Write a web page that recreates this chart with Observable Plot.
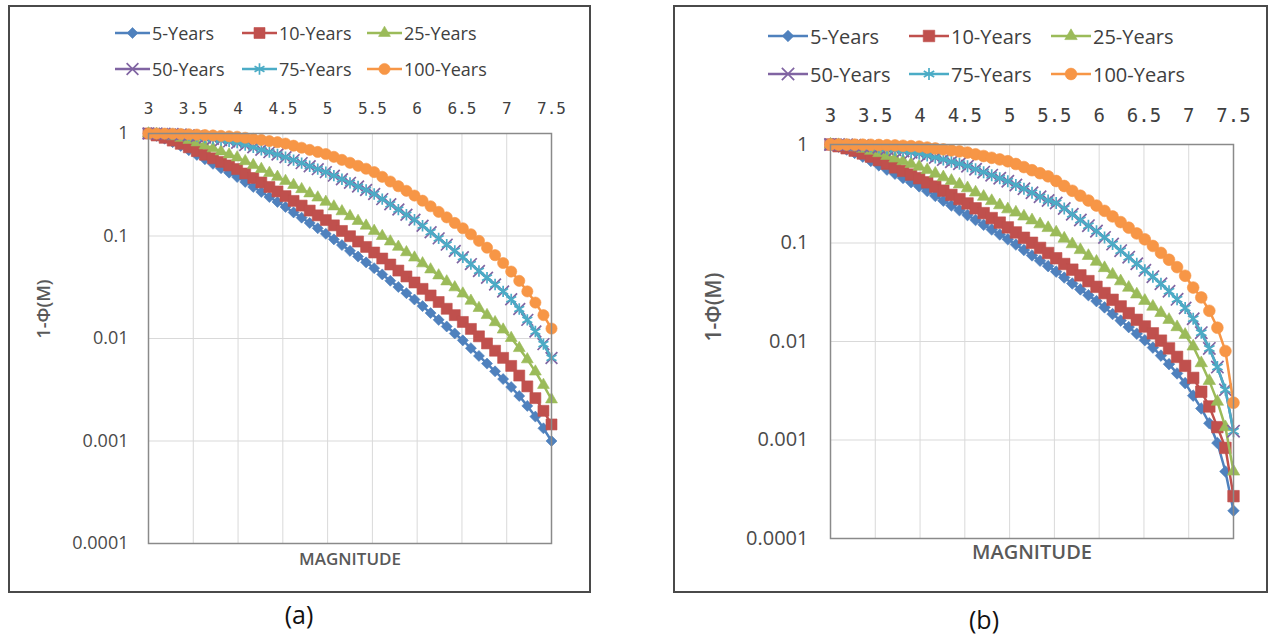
<!DOCTYPE html>
<html><head><meta charset="utf-8">
<script src="https://cdn.jsdelivr.net/npm/d3@7"></script>
<script src="https://cdn.jsdelivr.net/npm/@observablehq/plot@0.6"></script>
<style>
body{margin:0;background:#fff;width:1270px;height:636px;position:relative;overflow:hidden;font-family:"Open Sans",sans-serif;}
.frame{position:absolute;border:2px solid #4a4a4a;box-sizing:border-box;}
.abs{position:absolute;overflow:visible;}
.cap{position:absolute;font-size:25px;color:#111;transform:translate(-50%,-50%);font-family:"Open Sans",sans-serif;}
</style></head><body>
<script>
// ---- data ----
const magnitude = [3.00,3.09,3.18,3.27,3.36,3.45,3.54,3.63,3.72,3.81,3.90,3.99,4.08,4.17,4.26,4.35,4.44,4.53,4.62,4.71,4.80,4.89,4.98,5.07,5.16,5.25,5.34,5.43,5.52,5.61,5.70,5.79,5.88,5.97,6.06,6.15,6.24,6.33,6.42,6.51,6.60,6.69,6.78,6.87,6.96,7.05,7.14,7.23,7.32,7.41,7.50];
const seriesNames = ["5-Years","10-Years","25-Years","50-Years","75-Years","100-Years"];
const xTicks = [3,3.5,4,4.5,5,5.5,6,6.5,7,7.5];
const xTickLabels = ["3","3.5","4","4.5","5","5.5","6","6.5","7","7.5"];
const yTicks = [0.0001,0.001,0.01,0.1,1];
const yTickLabels = ["0.0001","0.001","0.01","0.1","1"];
const panelCaptions = ["(a)","(b)"];
const xTitle = "MAGNITUDE";
const yTitle = "1-\u03A6(M)";

// panel (a)
const a5 = [1.0,0.948,0.889,0.824,0.757,0.686,0.618,0.560,0.506,0.458,0.415,0.376,0.337,0.301,0.269,0.240,0.215,0.192,0.170,0.151,0.134,0.119,0.105,0.0927,0.0815,0.0716,0.0630,0.0553,0.0485,0.0422,0.0366,0.0318,0.0277,0.0240,0.0207,0.0177,0.0152,0.0131,0.0112,0.00959,0.00805,0.00676,0.00569,0.00478,0.00402,0.00336,0.00275,0.00220,0.00173,0.00133,0.00100];
const a10 = [1.0,0.957,0.908,0.853,0.794,0.733,0.673,0.621,0.573,0.528,0.488,0.450,0.407,0.368,0.333,0.301,0.272,0.245,0.220,0.198,0.177,0.159,0.143,0.127,0.112,0.0995,0.0883,0.0782,0.0690,0.0603,0.0527,0.0460,0.0403,0.0352,0.0305,0.0263,0.0227,0.0195,0.0169,0.0145,0.0124,0.0105,0.00895,0.00760,0.00647,0.00540,0.00435,0.00341,0.00262,0.00197,0.00145];
const a25 = [1.0,0.987,0.966,0.939,0.905,0.865,0.817,0.764,0.715,0.668,0.624,0.583,0.536,0.491,0.450,0.412,0.377,0.344,0.314,0.286,0.260,0.237,0.215,0.194,0.174,0.156,0.140,0.126,0.112,0.0998,0.0883,0.0783,0.0693,0.0615,0.0540,0.0471,0.0412,0.0360,0.0315,0.0274,0.0233,0.0198,0.0169,0.0144,0.0122,0.0101,0.00805,0.00625,0.00475,0.00352,0.00254];
const a75 = [1.0,0.999,0.994,0.987,0.976,0.963,0.943,0.915,0.889,0.863,0.838,0.814,0.773,0.733,0.693,0.658,0.624,0.587,0.550,0.514,0.480,0.449,0.420,0.388,0.358,0.330,0.304,0.281,0.257,0.229,0.204,0.181,0.161,0.144,0.126,0.109,0.0948,0.0824,0.0715,0.0621,0.0532,0.0456,0.0392,0.0336,0.0288,0.0241,0.0194,0.0152,0.0117,0.00881,0.00646];
const a50 = a75; // the 50-Years curve lies under the 75-Years curve in the picture
const a100 = [1.0,0.999,0.997,0.994,0.989,0.983,0.975,0.966,0.957,0.948,0.939,0.930,0.909,0.886,0.865,0.843,0.823,0.797,0.760,0.726,0.692,0.661,0.631,0.592,0.553,0.518,0.484,0.453,0.420,0.378,0.340,0.306,0.276,0.248,0.221,0.195,0.172,0.152,0.134,0.119,0.104,0.0897,0.0769,0.0650,0.0545,0.0450,0.0365,0.0288,0.0224,0.0169,0.0125];

// panel (b)
const b5 = [1.0,0.948,0.888,0.822,0.753,0.681,0.614,0.556,0.505,0.457,0.414,0.376,0.337,0.301,0.269,0.240,0.215,0.192,0.171,0.153,0.137,0.122,0.109,0.0964,0.0849,0.0748,0.0661,0.0582,0.0512,0.0446,0.0388,0.0338,0.0295,0.0257,0.0222,0.0190,0.0163,0.0140,0.0120,0.0103,0.00867,0.00719,0.00589,0.00474,0.00378,0.00282,0.00209,0.00148,0.000933,0.000479,0.000191];
const b10 = [1.0,0.961,0.916,0.866,0.811,0.754,0.695,0.638,0.586,0.540,0.495,0.455,0.413,0.374,0.340,0.308,0.279,0.252,0.225,0.201,0.179,0.161,0.144,0.128,0.113,0.1005,0.0891,0.0791,0.0700,0.0612,0.0536,0.0469,0.0410,0.0359,0.0310,0.0265,0.0227,0.0194,0.0166,0.0142,0.0121,0.0102,0.00851,0.00698,0.00566,0.00427,0.00309,0.00219,0.00135,0.000832,0.000269];
const b25 = [1.0,0.987,0.966,0.939,0.905,0.865,0.818,0.767,0.721,0.678,0.635,0.597,0.551,0.506,0.465,0.428,0.393,0.360,0.326,0.295,0.267,0.242,0.220,0.204,0.186,0.170,0.155,0.142,0.128,0.111,0.0973,0.0849,0.0740,0.0646,0.0557,0.0478,0.0409,0.0352,0.0301,0.0259,0.0226,0.0195,0.0166,0.0140,0.0117,0.00891,0.00603,0.00398,0.00245,0.00135,0.000479];
const b75 = [1.0,0.998,0.993,0.985,0.974,0.960,0.938,0.912,0.885,0.860,0.836,0.812,0.774,0.738,0.703,0.668,0.637,0.603,0.561,0.524,0.488,0.454,0.424,0.388,0.355,0.324,0.295,0.270,0.255,0.224,0.196,0.171,0.150,0.132,0.114,0.0975,0.0836,0.0718,0.0615,0.0528,0.0455,0.0386,0.0324,0.0268,0.0219,0.0170,0.0123,0.00851,0.00550,0.00324,0.00123];
const b50 = b75; // hidden under 75-Years in the picture
const b100 = [1.0,1.0,0.999,0.997,0.995,0.993,0.989,0.984,0.978,0.971,0.962,0.952,0.932,0.911,0.891,0.871,0.852,0.828,0.795,0.764,0.733,0.705,0.676,0.634,0.590,0.548,0.511,0.475,0.426,0.379,0.339,0.302,0.270,0.240,0.212,0.186,0.163,0.143,0.125,0.109,0.0933,0.0794,0.0676,0.0569,0.0465,0.0353,0.0280,0.0205,0.0138,0.0080,0.00239];

// ---- styles ----
const colors = ["#4F81BD","#C0504D","#9BBB59","#8064A2","#4BACC6","#F79646"];
const diamondSym = {draw(ctx, size){const s=Math.sqrt(size/2);ctx.moveTo(0,-s);ctx.lineTo(s,0);ctx.lineTo(0,s);ctx.lineTo(-s,0);ctx.closePath();}};
const symbols = [diamondSym, d3.symbolSquare, d3.symbolTriangle, d3.symbolTimes, d3.symbolAsterisk, d3.symbolCircle];
const strokeOnly = [false,false,false,true,true,false];
const radii = [4.4,6.2,4.4,5.4,5.4,5.6];

const panels = [
  {series:[a5,a10,a25,a50,a75,a100], frame:{l:8,t:5,w:583,h:588},
   svg:{l:9,t:88,w:581,h:500,mL:139,mR:39,mT:45,mB:45},
   fx:16, fy:18, ft:17, padX:20, padY:20, magDy:16, yDx:-104, k:1,
   leg:{x:[115,242,367], rows:[33,69], len:35, font:18},
   cap:{x:299,y:614}},
  {series:[b5,b10,b25,b50,b75,b100], frame:{l:673,t:5,w:595,h:588},
   svg:{l:674,t:88,w:592,h:500,mL:156,mR:33,mT:56,mB:50},
   fx:19, fy:20, ft:20, padX:23, padY:22, magDy:14, yDx:-116, k:1.05,
   leg:{x:[768,909,1051], rows:[36,74], len:40, font:20},
   cap:{x:984,y:619}}
];

const body = d3.select("body");
panels.forEach((P, pi) => {
  body.append("div").attr("class","frame")
    .style("left",P.frame.l+"px").style("top",P.frame.t+"px")
    .style("width",P.frame.w+"px").style("height",P.frame.h+"px");

  const marks = [
    Plot.gridX(xTicks.slice(1,-1), {stroke:"#d9d9d9", strokeOpacity:1, strokeWidth:1}),
    Plot.gridY(yTicks.slice(1,-1), {stroke:"#d9d9d9", strokeOpacity:1, strokeWidth:1})
  ];
  P.series.forEach((vals, s) => {
    const rows = magnitude.map((m,i)=>({m, p: vals[i]}));
    marks.push(Plot.line(rows, {x:"m", y:"p", stroke:colors[s], strokeWidth:2.5}));
    const rr = radii[s]*P.k;
    marks.push(Plot.dot(rows, strokeOnly[s]
      ? {x:"m", y:"p", symbol:symbols[s], r:rr, stroke:colors[s], strokeWidth:1.7, fill:"none"}
      : {x:"m", y:"p", symbol:symbols[s], r:rr, fill:colors[s], stroke:colors[s], strokeWidth:0.6}));
  });
  marks.push(Plot.frame({stroke:"#8a8a8a", strokeWidth:1.5}));
  marks.push(Plot.axisX(xTicks, {anchor:"top", tickSize:0, tickPadding:P.padX,
    tickFormat: d => xTickLabels[xTicks.indexOf(d)], fontFamily:"DejaVu Sans Mono",
    fontSize:P.fx, fill:"#404040", label:null}));
  marks.push(Plot.axisY(yTicks, {anchor:"left", tickSize:0, tickPadding:P.padY,
    tickFormat: d => yTickLabels[yTicks.indexOf(d)], fontFamily:"Open Sans",
    fontSize:P.fy, fill:"#4a4a4a", label:null}));
  marks.push(Plot.text([xTitle], {text:d=>d, frameAnchor:"bottom", dy:P.magDy, lineAnchor:"middle",
    fontSize:P.ft, fontWeight:600, fill:"#595959", fontFamily:"Open Sans"}));
  marks.push(Plot.text([yTitle], {text:d=>d, frameAnchor:"left", dx:P.yDx, rotate:-90, lineAnchor:"middle",
    fontSize:P.ft+1, fontWeight:600, fill:"#595959", fontFamily:"Open Sans"}));

  const chart = Plot.plot({
    width:P.svg.w, height:P.svg.h,
    marginLeft:P.svg.mL, marginRight:P.svg.mR, marginTop:P.svg.mT, marginBottom:P.svg.mB,
    x:{domain:[3,7.5]},
    y:{type:"log", domain:[1e-4,1]},
    style:{background:"transparent", fontFamily:"Open Sans", overflow:"visible"},
    marks
  });
  d3.select(chart).attr("class","abs").style("left",P.svg.l+"px").style("top",P.svg.t+"px");
  body.node().appendChild(chart);

  // legend
  const lg = body.append("svg").attr("class","abs").style("left","0px").style("top","0px")
    .attr("width",1270).attr("height",100);
  seriesNames.forEach((name, s) => {
    const x0 = P.leg.x[s%3], y = P.leg.rows[Math.floor(s/3)];
    const g = lg.append("g");
    g.append("line").attr("x1",x0).attr("x2",x0+P.leg.len).attr("y1",y).attr("y2",y)
      .attr("stroke",colors[s]).attr("stroke-width",2.5);
    const rr = radii[s]*P.k;
    g.append("path").attr("transform",`translate(${x0+P.leg.len/2},${y})`)
      .attr("d", d3.symbol(symbols[s], rr*rr*Math.PI)())
      .attr("fill", strokeOnly[s] ? "none" : colors[s])
      .attr("stroke", colors[s]).attr("stroke-width", strokeOnly[s]?1.7:0.6);
    g.append("text").attr("x",x0+P.leg.len+2).attr("y",y).attr("dominant-baseline","central")
      .attr("font-family","Open Sans").attr("font-size",P.leg.font).attr("fill","#404040").text(name);
  });

  body.append("div").attr("class","cap").style("left",P.cap.x+"px").style("top",P.cap.y+"px")
    .text(panelCaptions[pi]);
});
</script>
</body></html>
